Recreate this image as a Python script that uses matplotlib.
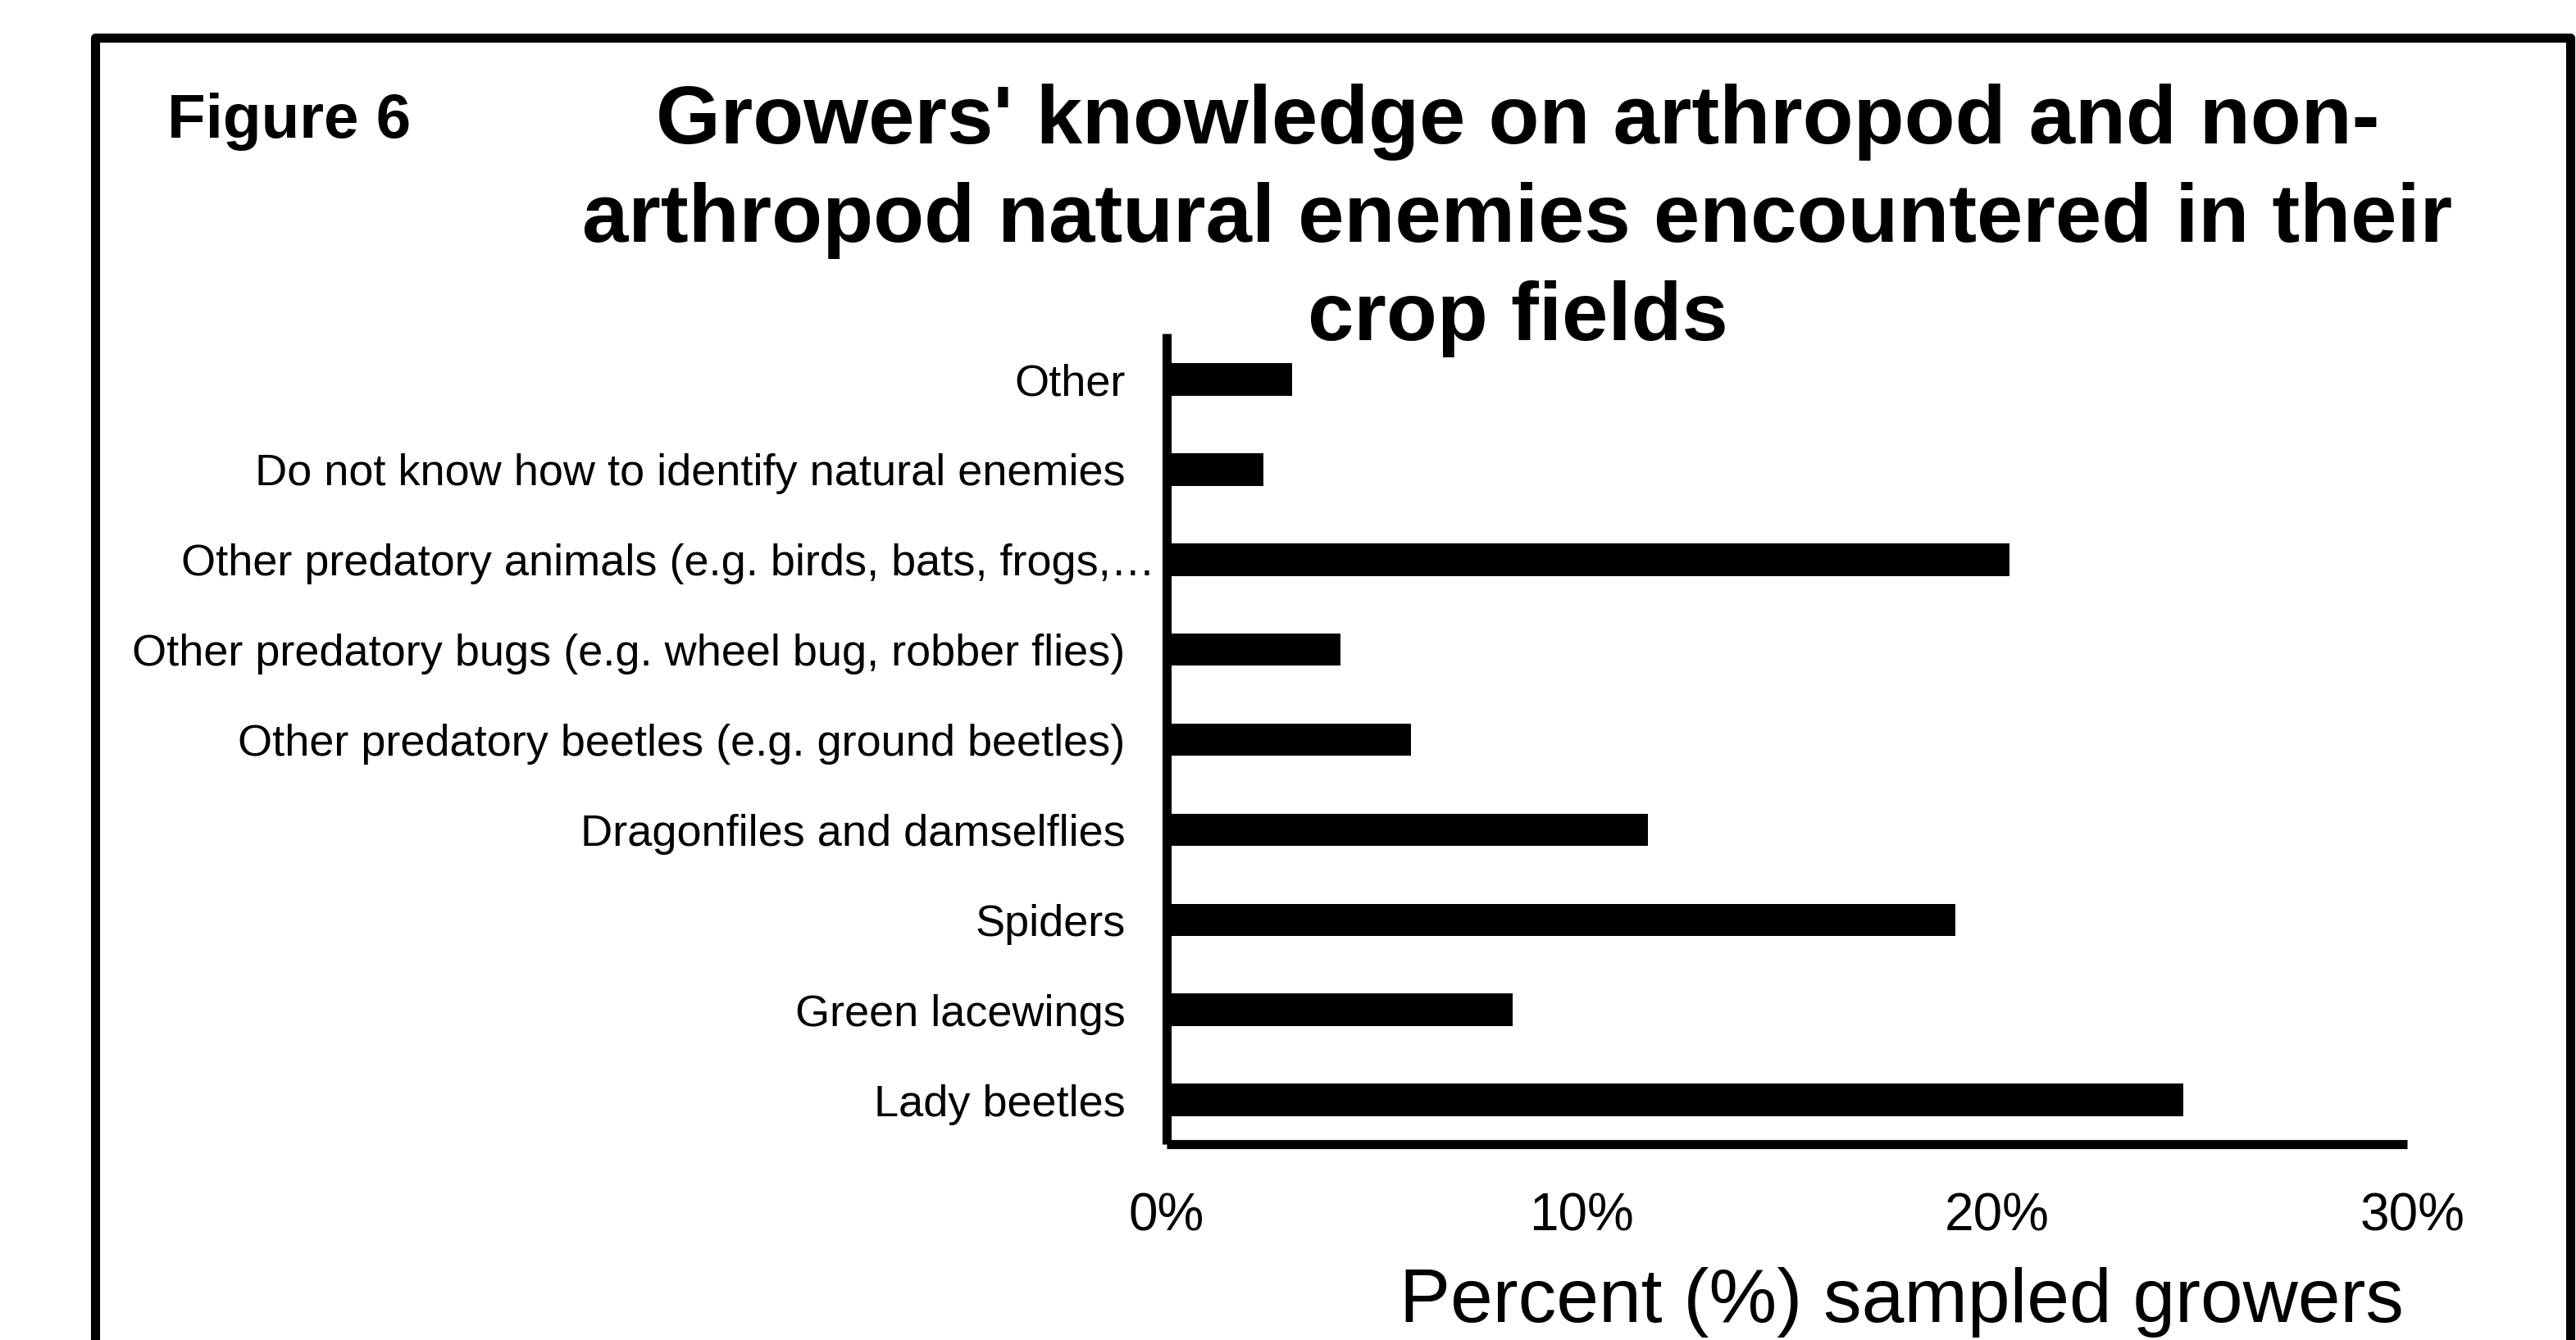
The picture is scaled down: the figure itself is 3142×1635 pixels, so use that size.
import matplotlib
matplotlib.use("Agg")
import matplotlib.pyplot as plt
import matplotlib.transforms as mtransforms
from matplotlib.lines import Line2D
from matplotlib.ticker import PercentFormatter

# Survey responses (bottom to top as drawn)
categories = [
    "Lady beetles",
    "Green lacewings",
    "Spiders",
    "Dragonfiles and damselflies",
    "Other predatory beetles (e.g. ground beetles)",
    "Other predatory bugs (e.g. wheel bug, robber flies)",
    "Other predatory animals (e.g. birds, bats, frogs,\u2026",
    "Do not know how to identify natural enemies",
    "Other",
]
percent_growers = [24.5, 8.35, 19.0, 11.6, 5.9, 4.2, 20.3, 2.33, 3.04]
x_ticks = [0, 10, 20, 30]

figure_tag = "Figure 6"
title_lines = [
    "Growers' knowledge on arthropod and non-",
    "arthropod natural enemies encountered in their",
    "crop fields",
]
x_label = "Percent (%) sampled growers"

plt.rcParams["font.family"] = ["Liberation Sans", "DejaVu Sans"]

W, H = 3142, 1635
fig = plt.figure(figsize=(W / 100, H / 100), dpi=100)


def fx(px):
    return px / W


def fy(py):
    return 1 - py / H


# plot area in pixel terms
left, right, top, bottom = 1422.5, 2942, 407, 1396
ax = fig.add_axes([fx(left), fy(bottom), fx(right) - fx(left), fy(top) - fy(bottom)])

ypos = list(range(len(categories)))
ax.barh(ypos, percent_growers, height=0.36, color="black", zorder=1)
ax.set_ylim(-0.49, 8.51)
ax.set_xlim(0, 30)

ax.set_yticks(ypos)
ax.set_yticklabels(categories, fontsize=39)
ax.set_xticks(x_ticks)
ax.xaxis.set_major_formatter(PercentFormatter(decimals=0))
ax.tick_params(axis="x", length=0, pad=42, labelsize=46)
ax.tick_params(axis="y", length=0, pad=36)

for side in ("top", "right"):
    ax.spines[side].set_visible(False)
for side in ("left", "bottom"):
    ax.spines[side].set_linewidth(8)
    ax.spines[side].set_color("black")
    ax.spines[side].set_capstyle("butt")
    ax.spines[side].set_zorder(3)
ax.spines["bottom"].set_bounds(0, 29.88)

# the truncated label reaches right up to the axis line
lbl = ax.get_yticklabels()[6]
lbl.set_transform(lbl.get_transform() + mtransforms.ScaledTranslation(0.36, 0, fig.dpi_scale_trans))

ax.set_xlabel(x_label, fontsize=67)
ax.xaxis.label.set_va("baseline")
ax.xaxis.set_label_coords((2319 - left) / (right - left), (bottom - 1613) / (bottom - top))

# outer frame (open at the bottom)
fig.add_artist(Line2D([fx(116), fx(116), fx(3135), fx(3135)],
                      [fy(1700), fy(46), fy(46), fy(1700)],
                      transform=fig.transFigure, lw=8, color="black",
                      solid_joinstyle="round", solid_capstyle="butt"))

fig.text(fx(204), fy(168), figure_tag, fontsize=55, fontweight="bold",
         ha="left", va="baseline")

for line, base in zip(title_lines, [175, 295, 415]):
    fig.text(fx(1851), fy(base), line, fontsize=73, fontweight="bold",
             ha="center", va="baseline")

fig.savefig("out.png", dpi=100, facecolor="white")
